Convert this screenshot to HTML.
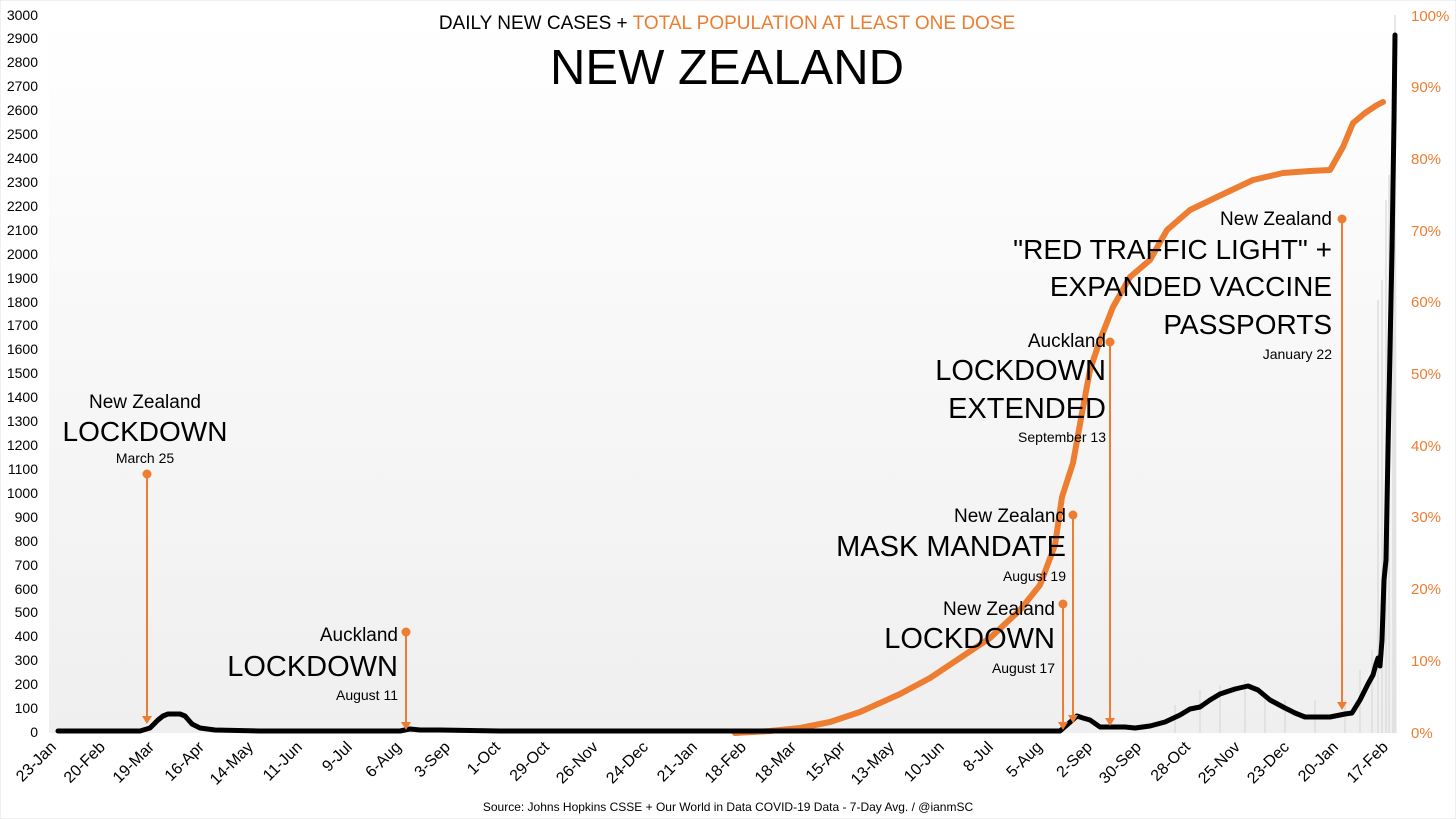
<!DOCTYPE html>
<html><head><meta charset="utf-8"><style>
html,body{margin:0;padding:0;background:#fff;}
svg{display:block;font-family:"Liberation Sans",sans-serif;}
</style></head><body>
<svg width="1456" height="819" viewBox="0 0 1456 819" xmlns="http://www.w3.org/2000/svg">
<defs>
<linearGradient id="bg" x1="0" y1="0" x2="0" y2="1">
<stop offset="0" stop-color="#ffffff"/><stop offset="1" stop-color="#efefef"/>
</linearGradient>
</defs>
<rect x="0" y="0" width="1456" height="819" fill="#fff" stroke="#e0e0e0"/>
<rect x="49" y="15" width="1348" height="718" fill="url(#bg)"/>
<g font-size="14" fill="#000" text-anchor="end">
<text x="38" y="737">0</text><text x="38" y="713">100</text><text x="38" y="689">200</text><text x="38" y="665">300</text><text x="38" y="641">400</text><text x="38" y="617">500</text><text x="38" y="594">600</text><text x="38" y="570">700</text><text x="38" y="546">800</text><text x="38" y="522">900</text><text x="38" y="498">1000</text><text x="38" y="474">1100</text><text x="38" y="450">1200</text><text x="38" y="426">1300</text><text x="38" y="402">1400</text><text x="38" y="378">1500</text><text x="38" y="354">1600</text><text x="38" y="330">1700</text><text x="38" y="307">1800</text><text x="38" y="283">1900</text><text x="38" y="259">2000</text><text x="38" y="235">2100</text><text x="38" y="211">2200</text><text x="38" y="187">2300</text><text x="38" y="163">2400</text><text x="38" y="139">2500</text><text x="38" y="115">2600</text><text x="38" y="91">2700</text><text x="38" y="67">2800</text><text x="38" y="43">2900</text><text x="38" y="20">3000</text>
</g>
<g font-size="15" fill="#ed7d31">
<text x="1411" y="738">0%</text><text x="1411" y="666">10%</text><text x="1411" y="594">20%</text><text x="1411" y="522">30%</text><text x="1411" y="451">40%</text><text x="1411" y="379">50%</text><text x="1411" y="307">60%</text><text x="1411" y="236">70%</text><text x="1411" y="164">80%</text><text x="1411" y="92">90%</text><text x="1411" y="21">100%</text>
</g>
<g font-size="16" fill="#000" text-anchor="end">
<text transform="translate(57,748) rotate(-45)">23-Jan</text>
<text transform="translate(106,748) rotate(-45)">20-Feb</text>
<text transform="translate(155,748) rotate(-45)">19-Mar</text>
<text transform="translate(205,748) rotate(-45)">16-Apr</text>
<text transform="translate(254,748) rotate(-45)">14-May</text>
<text transform="translate(303,748) rotate(-45)">11-Jun</text>
<text transform="translate(353,748) rotate(-45)">9-Jul</text>
<text transform="translate(402,748) rotate(-45)">6-Aug</text>
<text transform="translate(451,748) rotate(-45)">3-Sep</text>
<text transform="translate(501,748) rotate(-45)">1-Oct</text>
<text transform="translate(550,748) rotate(-45)">29-Oct</text>
<text transform="translate(599,748) rotate(-45)">26-Nov</text>
<text transform="translate(649,748) rotate(-45)">24-Dec</text>
<text transform="translate(698,748) rotate(-45)">21-Jan</text>
<text transform="translate(747,748) rotate(-45)">18-Feb</text>
<text transform="translate(797,748) rotate(-45)">18-Mar</text>
<text transform="translate(846,748) rotate(-45)">15-Apr</text>
<text transform="translate(895,748) rotate(-45)">13-May</text>
<text transform="translate(945,748) rotate(-45)">10-Jun</text>
<text transform="translate(994,748) rotate(-45)">8-Jul</text>
<text transform="translate(1043,748) rotate(-45)">5-Aug</text>
<text transform="translate(1093,748) rotate(-45)">2-Sep</text>
<text transform="translate(1142,748) rotate(-45)">30-Sep</text>
<text transform="translate(1191,748) rotate(-45)">28-Oct</text>
<text transform="translate(1241,748) rotate(-45)">25-Nov</text>
<text transform="translate(1290,748) rotate(-45)">23-Dec</text>
<text transform="translate(1339,748) rotate(-45)">20-Jan</text>
<text transform="translate(1389,748) rotate(-45)">17-Feb</text>
</g>
<text x="728" y="811" font-size="12" text-anchor="middle">Source: Johns Hopkins CSSE + Our World in Data COVID-19 Data - 7-Day Avg. / @ianmSC</text>
<text x="727" y="29" font-size="19" text-anchor="middle">DAILY NEW CASES + <tspan fill="#ed7d31">TOTAL POPULATION AT LEAST ONE DOSE</tspan></text>
<text x="727" y="84" font-size="49" text-anchor="middle">NEW ZEALAND</text>
<g stroke="#d8d8d8" stroke-width="1.2">
<line x1="1175" y1="733" x2="1175" y2="705"/><line x1="1200" y1="733" x2="1200" y2="690"/><line x1="1220" y1="733" x2="1220" y2="685"/><line x1="1245" y1="733" x2="1245" y2="680"/><line x1="1265" y1="733" x2="1265" y2="695"/><line x1="1285" y1="733" x2="1285" y2="700"/><line x1="1315" y1="733" x2="1315" y2="700"/><line x1="1345" y1="733" x2="1345" y2="700"/>
<line x1="1360" y1="733" x2="1360" y2="670"/><line x1="1372" y1="733" x2="1372" y2="650"/><line x1="1378" y1="733" x2="1378" y2="300"/><line x1="1382" y1="733" x2="1382" y2="280"/><line x1="1386" y1="733" x2="1386" y2="200"/><line x1="1389" y1="733" x2="1389" y2="175"/><line x1="1393" y1="733" x2="1393" y2="100"/><line x1="1395" y1="733" x2="1395" y2="15"/>
</g>
<polyline fill="none" stroke="#ed7d31" stroke-width="6" stroke-linejoin="round" stroke-linecap="round"
points="735,733 770,731 800,728 830,722 860,712 900,694 930,678 960,658 990,638 1020,610 1040,585 1055,545 1062,497 1073,463 1082,413 1090,370 1100,340 1113,307 1130,277 1150,260 1167,230 1190,210 1217,197 1253,180 1283,173 1310,171 1330,170 1343,147 1353,123 1365,113 1377,105 1383,102"/>
<polyline fill="none" stroke="#000" stroke-width="5" stroke-linejoin="round" stroke-linecap="round"
points="58,731 140,731 150,728 158,720 163,716 168,714 180,714 185,716 192,724 200,728 215,730 260,731 400,731 410,729 420,730 440,730 500,731 700,731 1060,731 1068,724 1077,716 1083,718 1090,720 1100,727 1110,727 1125,727 1135,728 1150,726 1165,722 1180,715 1190,709 1200,707 1210,700 1220,694 1235,689 1248,686 1258,690 1270,700 1285,708 1295,713 1305,717 1330,717 1345,714 1352,713 1360,700 1368,684 1373,675 1376,664 1378,658 1380,666 1382,640 1384,580 1386,560 1388,450 1390,350 1392,250 1394,120 1395,35"/>
<g stroke="#ed7d31" stroke-width="2" fill="#ed7d31">
<line x1="147" y1="474" x2="147" y2="718"/><circle cx="147" cy="474" r="3.5"/><path d="M142,716 L152,716 L147,724 Z" stroke="none"/>
<line x1="406" y1="632" x2="406" y2="724"/><circle cx="406" cy="632" r="3.5"/><path d="M401,722 L411,722 L406,730 Z" stroke="none"/>
<line x1="1063" y1="604" x2="1063" y2="724"/><circle cx="1063" cy="604" r="3.5"/><path d="M1058,722 L1068,722 L1063,730 Z" stroke="none"/>
<line x1="1073" y1="515" x2="1073" y2="717"/><circle cx="1073" cy="515" r="3.5"/><path d="M1068,715 L1078,715 L1073,723 Z" stroke="none"/>
<line x1="1110" y1="342" x2="1110" y2="720"/><circle cx="1110" cy="342" r="3.5"/><path d="M1105,718 L1115,718 L1110,726 Z" stroke="none"/>
<line x1="1342" y1="219" x2="1342" y2="704"/><circle cx="1342" cy="219" r="3.5"/><path d="M1337,702 L1347,702 L1342,710 Z" stroke="none"/>
</g>
<g fill="#000" text-anchor="middle">
<text x="145" y="408" font-size="19">New Zealand</text>
<text x="145" y="441" font-size="28">LOCKDOWN</text>
<text x="145" y="463" font-size="14">March 25</text>
</g>
<g fill="#000" text-anchor="end">
<text x="398" y="641" font-size="19">Auckland</text>
<text x="398" y="676" font-size="29">LOCKDOWN</text>
<text x="398" y="700" font-size="14">August 11</text>
<text x="1055" y="615" font-size="19">New Zealand</text>
<text x="1055" y="648" font-size="29">LOCKDOWN</text>
<text x="1055" y="673" font-size="14">August 17</text>
<text x="1066" y="522" font-size="19">New Zealand</text>
<text x="1066" y="556" font-size="29">MASK MANDATE</text>
<text x="1066" y="581" font-size="14">August 19</text>
<text x="1106" y="347" font-size="19">Auckland</text>
<text x="1106" y="380" font-size="29">LOCKDOWN</text>
<text x="1106" y="418" font-size="29">EXTENDED</text>
<text x="1106" y="442" font-size="14">September 13</text>
<text x="1332" y="225" font-size="19">New Zealand</text>
<text x="1332" y="259" font-size="28">"RED TRAFFIC LIGHT" +</text>
<text x="1332" y="296" font-size="28">EXPANDED VACCINE</text>
<text x="1332" y="334" font-size="28">PASSPORTS</text>
<text x="1332" y="359" font-size="14">January 22</text>
</g>
</svg>
</body></html>
